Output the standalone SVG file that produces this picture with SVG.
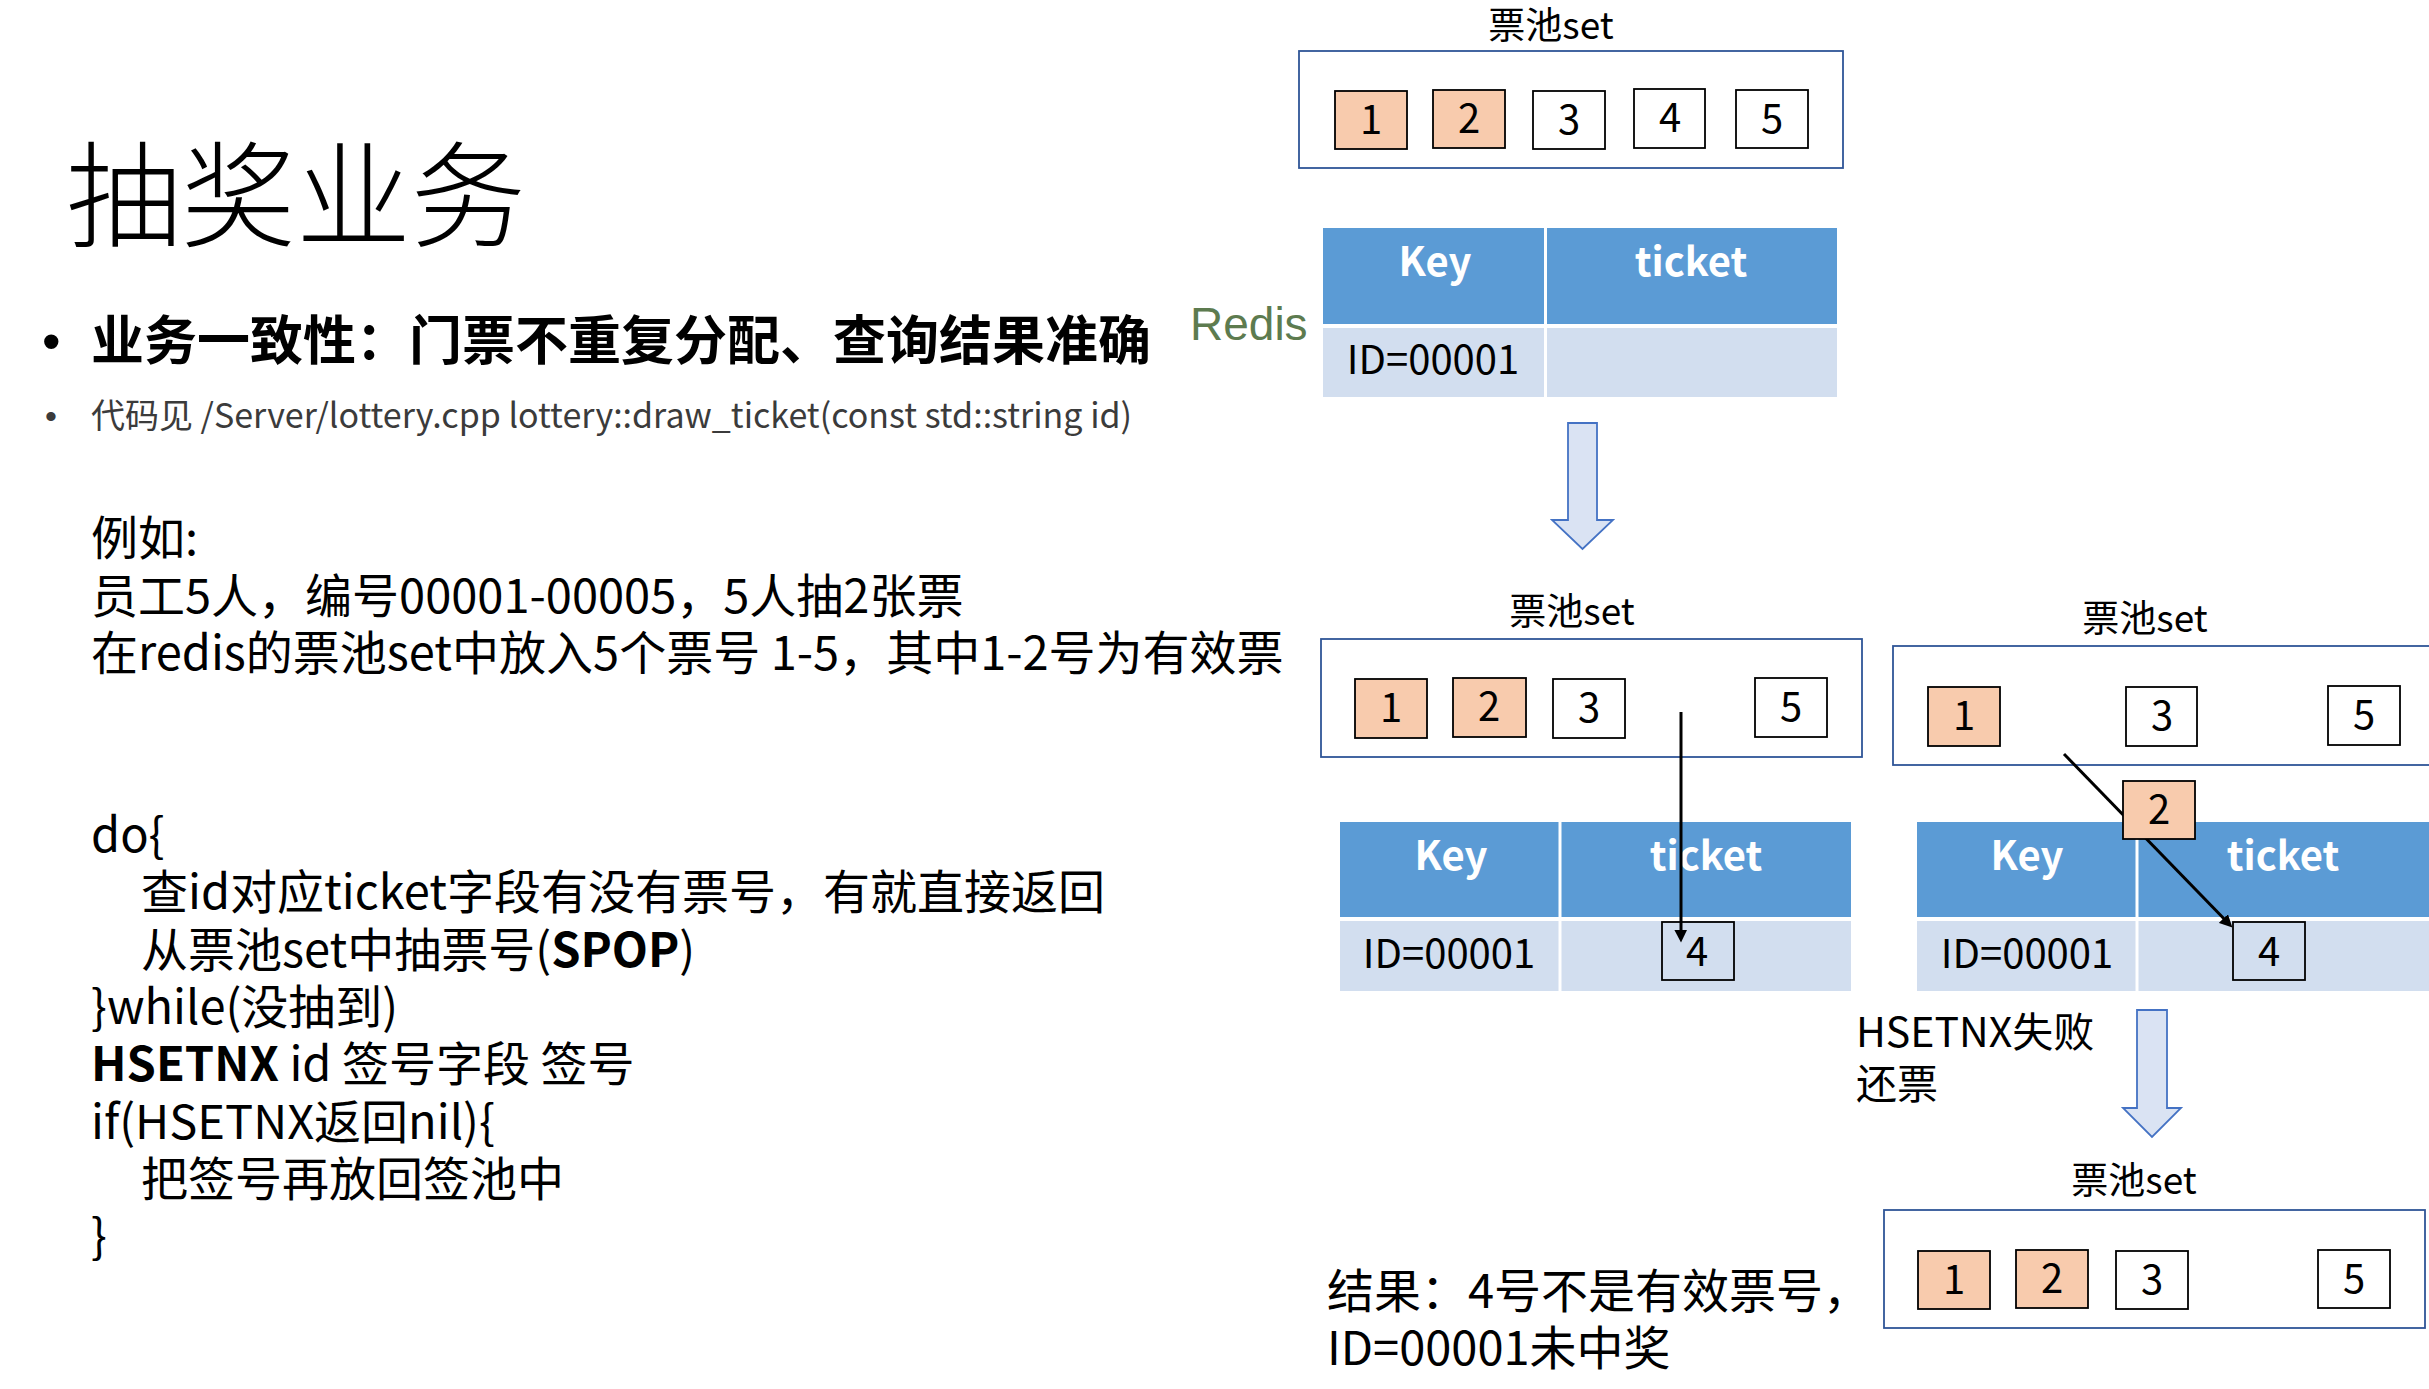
<svg xmlns="http://www.w3.org/2000/svg" width="2429" height="1389" viewBox="0 0 2429 1389">
<defs>
<style>
.t{font-family:"Noto Sans CJK SC","Noto Sans",sans-serif;fill:#000}
.b{font-weight:700}
.set{fill:none;stroke:#2F5597;stroke-width:1.8}
.bo{fill:#F8CBAD;stroke:#000;stroke-width:1.8}
.bw{fill:#fff;stroke:#000;stroke-width:1.8}
.bt{fill:none;stroke:#000;stroke-width:1.8}
.num{font-size:40px;text-anchor:middle}
.lbl{font-size:37px;text-anchor:middle}
.hd{fill:#5B9BD5}
.rw{fill:#D2DEEF}
.hk{font-weight:700;font-size:40px;fill:#fff;text-anchor:middle}
.id{font-size:40px;text-anchor:middle}
.big{fill:#DAE3F3;stroke:#4472C4;stroke-width:1.8}
.conn{stroke:#000;stroke-width:3;fill:none;marker-end:url(#ah)}
.code{font-size:47px}
</style>
<marker id="ah" markerWidth="4.2" markerHeight="4.2" refX="1" refY="2" orient="auto" markerUnits="strokeWidth">
<path d="M0,0 L4.2,2 L0,4.2 z" fill="#000"/>
</marker>
</defs>
<rect width="2429" height="1389" fill="#fff"/>

<g id="left-text">
<text class="t" x="66" y="238" font-size="115" font-weight="300">抽奖业务</text>
<text x="42" y="360" font-family="Liberation Sans, sans-serif" font-size="53">•</text>
<text class="t b" x="91" y="360" font-size="53">业务一致性：门票不重复分配、查询结果准确</text>
<text x="45" y="428" font-family="Liberation Sans, sans-serif" font-size="34" fill="#3B3B3B">•</text>
<text class="t" x="91" y="428" font-size="34" style="fill:#3B3B3B">代码见 /Server/lottery.cpp lottery::draw_ticket(const std::string id)</text>
<text class="t code" x="91" y="555">例如:</text>
<text class="t code" x="91" y="613">员工5人，编号00001-00005，5人抽2张票</text>
<text class="t code" x="91" y="670">在redis的票池set中放入5个票号 1-5，其中1-2号为有效票</text>
<text class="t code" x="91" y="852">do{</text>
<text class="t code" x="141" y="909">查id对应ticket字段有没有票号，有就直接返回</text>
<text class="t code" x="141" y="967">从票池set中抽票号(<tspan class="b">SPOP</tspan>)</text>
<text class="t code" x="91" y="1024">}while(没抽到)</text>
<text class="t code" x="91" y="1081"><tspan class="b">HSETNX</tspan> id 签号字段 签号</text>
<text class="t code" x="91" y="1139">if(HSETNX返回nil){</text>
<text class="t code" x="141" y="1196">把签号再放回签池中</text>
<text class="t code" x="91" y="1253">}</text>
</g>

<g id="redis-label">
<text x="1190" y="340" font-family="Liberation Sans, Arial, sans-serif" font-size="46" fill="#5D7B4F">Redis</text>
</g>

<g id="set-top">
<text class="t lbl" x="1551" y="39">票池set</text>
<rect class="set" x="1299" y="51" width="544" height="117"/>
<rect class="bo" x="1335" y="91" width="72" height="58"/>
<text class="t num" x="1371" y="134">1</text>
<rect class="bo" x="1433" y="90" width="72" height="58"/>
<text class="t num" x="1469" y="133">2</text>
<rect class="bw" x="1533" y="91" width="72" height="58"/>
<text class="t num" x="1569" y="134">3</text>
<rect class="bw" x="1634" y="89" width="71" height="59"/>
<text class="t num" x="1670" y="132">4</text>
<rect class="bw" x="1736" y="90" width="72" height="58"/>
<text class="t num" x="1772" y="133">5</text>
</g>

<g id="table-top">
<rect class="hd" x="1323" y="228" width="221" height="96"/>
<rect class="hd" x="1547" y="228" width="290" height="96"/>
<rect class="rw" x="1323" y="328" width="221" height="69"/>
<rect class="rw" x="1547" y="328" width="290" height="69"/>
<text class="t hk" x="1435" y="276">Key</text>
<text class="t hk" x="1691" y="276">ticket</text>
<text class="t id" x="1433" y="374">ID=00001</text>
</g>

<g id="arrow-down-1">
<path class="big" d="M1568,423 H1597 V520 H1613 L1582.5,549 L1552,520 H1568 Z"/>
</g>

<g id="set-mid">
<text class="t lbl" x="1572" y="625">票池set</text>
<rect class="set" x="1321" y="639" width="541" height="118"/>
<rect class="bo" x="1355" y="679" width="72" height="59"/>
<text class="t num" x="1391" y="722">1</text>
<rect class="bo" x="1453" y="678" width="73" height="59"/>
<text class="t num" x="1489" y="721">2</text>
<rect class="bw" x="1553" y="679" width="72" height="59"/>
<text class="t num" x="1589" y="722">3</text>
<rect class="bw" x="1755" y="678" width="72" height="59"/>
<text class="t num" x="1791" y="721">5</text>
</g>

<g id="table-mid">
<rect class="hd" x="1340" y="822" width="218.5" height="95"/>
<rect class="hd" x="1561.5" y="822" width="289.5" height="95"/>
<rect class="rw" x="1340" y="921" width="218.5" height="70"/>
<rect class="rw" x="1561.5" y="921" width="289.5" height="70"/>
<text class="t hk" x="1451" y="870">Key</text>
<text class="t hk" x="1706" y="870">ticket</text>
<text class="t id" x="1449" y="968">ID=00001</text>
<rect class="bt" x="1662" y="922" width="72" height="58"/>
<text class="t num" x="1697" y="966">4</text>
</g>

<g id="set-right">
<text class="t lbl" x="2145" y="632">票池set</text>
<rect class="set" x="1893" y="646" width="560" height="119"/>
<rect class="bo" x="1928" y="687" width="72" height="59"/>
<text class="t num" x="1964" y="730">1</text>
<rect class="bw" x="2126" y="687" width="71" height="59"/>
<text class="t num" x="2162" y="730">3</text>
<rect class="bw" x="2328" y="686" width="72" height="59"/>
<text class="t num" x="2364" y="729">5</text>
</g>

<g id="table-right">
<rect class="hd" x="1917" y="822" width="218.5" height="95"/>
<rect class="hd" x="2138.5" y="822" width="300" height="95"/>
<rect class="rw" x="1917" y="921" width="218.5" height="70"/>
<rect class="rw" x="2138.5" y="921" width="300" height="70"/>
<text class="t hk" x="2027" y="870">Key</text>
<text class="t hk" x="2283" y="870">ticket</text>
<text class="t id" x="2027" y="968">ID=00001</text>
<rect class="bt" x="2233" y="922" width="72" height="58"/>
<text class="t num" x="2269" y="966">4</text>
</g>

<g id="connectors">
<line class="conn" x1="1681" y1="712" x2="1681" y2="933"/>
<line class="conn" x1="2064" y1="754" x2="2225.7" y2="920.5"/>
</g>

<g id="moved-ticket-2">
<rect class="bo" x="2123" y="781" width="72" height="58"/>
<text class="t num" x="2159" y="824">2</text>
</g>

<g id="hsetnx-fail">
<text class="t" x="1856" y="1047" font-size="41">HSETNX失败</text>
<text class="t" x="1856" y="1099" font-size="41">还票</text>
</g>

<g id="arrow-down-2">
<path class="big" d="M2137,1010 H2167 V1108 H2181 L2152,1137 L2123,1108 H2137 Z"/>
</g>

<g id="set-bottom">
<text class="t lbl" x="2134" y="1194">票池set</text>
<rect class="set" x="1884" y="1210" width="541" height="118"/>
<rect class="bo" x="1918" y="1251" width="72" height="58"/>
<text class="t num" x="1954" y="1294">1</text>
<rect class="bo" x="2016" y="1250" width="72" height="58"/>
<text class="t num" x="2052" y="1293">2</text>
<rect class="bw" x="2116" y="1251" width="72" height="58"/>
<text class="t num" x="2152" y="1294">3</text>
<rect class="bw" x="2318" y="1250" width="72" height="58"/>
<text class="t num" x="2354" y="1293">5</text>
</g>

<g id="result">
<text class="t" x="1327" y="1308" font-size="47">结果：4号不是有效票号，</text>
<text class="t" x="1327" y="1365" font-size="47">ID=00001未中奖</text>
</g>
</svg>
